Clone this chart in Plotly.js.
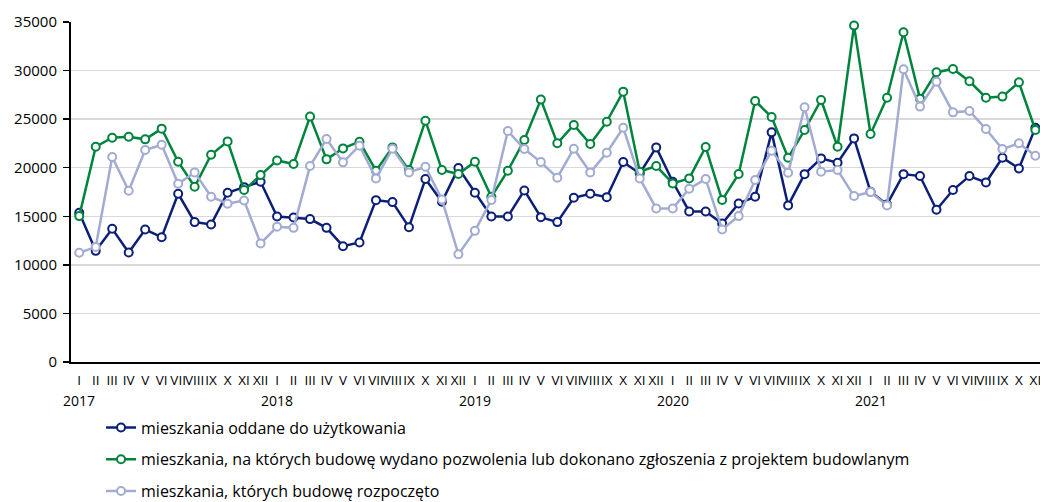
<!DOCTYPE html>
<html><head><meta charset="utf-8">
<script src="https://cdn.plot.ly/plotly-3.0.1.min.js"></script>
<style>html,body{margin:0;padding:0;background:#fff}#c{width:1040px;height:502px}</style>
</head><body><div id="c"></div>
<script>
const years = [2017, 2018, 2019, 2020, 2021];
const months = ['I','II','III','IV','V','VI','VII','VIII','IX','X','XI','XII'];
const lastMonthCount = 11; // data ends in XI 2021

const oddane = [15360,11440,13710,11270,13640,12850,17320,14400,14160,17420,18000,18550,
  14980,14880,14710,13810,11920,12300,16660,16460,13880,18830,16490,19960,
  17420,14980,14980,17660,14910,14400,16900,17320,16970,20580,19400,22090,
  18550,15500,15500,14260,16320,17010,23640,16120,19340,20960,20510,23020,
  17520,16220,19340,19140,15670,17700,19140,18490,21030,19930,24120];
const pozwolenia = [15020,22160,23090,23190,22920,24020,20620,18040,21340,22710,17700,19240,
  20750,20380,25260,20860,21990,22680,19690,22090,19760,24840,19760,19350,
  20620,17010,19690,22850,27010,22510,24400,22440,24740,27830,19590,20170,
  18380,18900,22130,16670,19350,26870,25220,21030,23880,26970,22160,34630,
  23470,27210,33950,27110,29830,30170,28900,27210,27320,28790,23880];
const rozpoczete = [11240,11850,21100,17630,21820,22370,18350,19520,17010,16290,16630,12200,
  13920,13810,20170,22950,20550,22270,18900,21960,19520,20100,16730,11100,
  13500,16670,23780,21920,20580,18970,21960,19520,21540,24120,18900,15810,
  15810,17830,18830,13640,15020,18730,21750,19480,26220,19590,19760,17080,
  17490,16120,30130,26290,28860,25700,25840,23980,21920,22510,21230];

const seriesNames = ['mieszkania oddane do użytkowania',
  'mieszkania, na których budowę wydano pozwolenia lub dokonano zgłoszenia z projektem budowlanym',
  'mieszkania, których budowę rozpoczęto'];
const colors = ['#0b1f78', '#00843d', '#a2abd2'];

const cats = [], tickText = [];
years.forEach((y, yi) => {
  const n = yi === years.length - 1 ? lastMonthCount : 12;
  for (let m = 0; m < n; m++) { cats.push(months[m] + ' ' + y); tickText.push(months[m]); }
});

const FONT = 'Open Sans, Noto Sans, sans-serif';
const data = [oddane, pozwolenia, rozpoczete].map((vals, i) => ({
  type: 'scatter', mode: 'lines+markers', x: cats, y: vals, name: seriesNames[i],
  legendgroup: 'g' + i, cliponaxis: false,
  line: {color: colors[i], width: 2.5},
  marker: {symbol: 'circle', size: 8, color: '#ffffff', line: {color: colors[i], width: 2}}
}));

const annotations = years.map(y => ({
  x: 'I ' + y, y: 0, xref: 'x', yref: 'paper', yshift: -38, text: String(y),
  showarrow: false, font: {family: FONT, size: 14, color: '#000'}, xanchor: 'center', yanchor: 'middle'
}));

const layout = {
  width: 1040, height: 502,
  margin: {l: 71, r: 0, t: 22, b: 140, autoexpand: false},
  paper_bgcolor: '#fff', plot_bgcolor: '#fff',
  font: {family: FONT, size: 14, color: '#000'},
  showlegend: true,
  legend: {orientation: 'v', x: 0.031, xanchor: 'left', y: -0.431, yanchor: 'bottom',
    traceorder: 'grouped', tracegroupgap: 8, font: {family: FONT, size: 16, color: '#000'}},
  xaxis: {type: 'category', range: [-0.5, 58.28], tickmode: 'array', tickvals: cats, ticktext: tickText,
    tickangle: 0, ticks: '', showgrid: false, showline: true, linecolor: '#000', linewidth: 2,
    zeroline: false, tickfont: {family: FONT, size: 13.5, color: '#000'}, ticklabelstandoff: 5},
  yaxis: {range: [0, 35000], dtick: 5000, tick0: 0, tickformat: 'd', showgrid: true,
    gridcolor: '#d9d9d9', gridwidth: 1.5, showline: true, linecolor: '#000', linewidth: 2,
    ticks: 'outside', ticklen: 6, tickwidth: 1.5, tickcolor: '#000', zeroline: false,
    tickfont: {family: FONT, size: 15, color: '#000'}, ticklabelstandoff: 3, fixedrange: true},
  annotations: annotations
};
Plotly.newPlot('c', data, layout, {displayModeBar: false, staticPlot: true});
</script></body></html>
